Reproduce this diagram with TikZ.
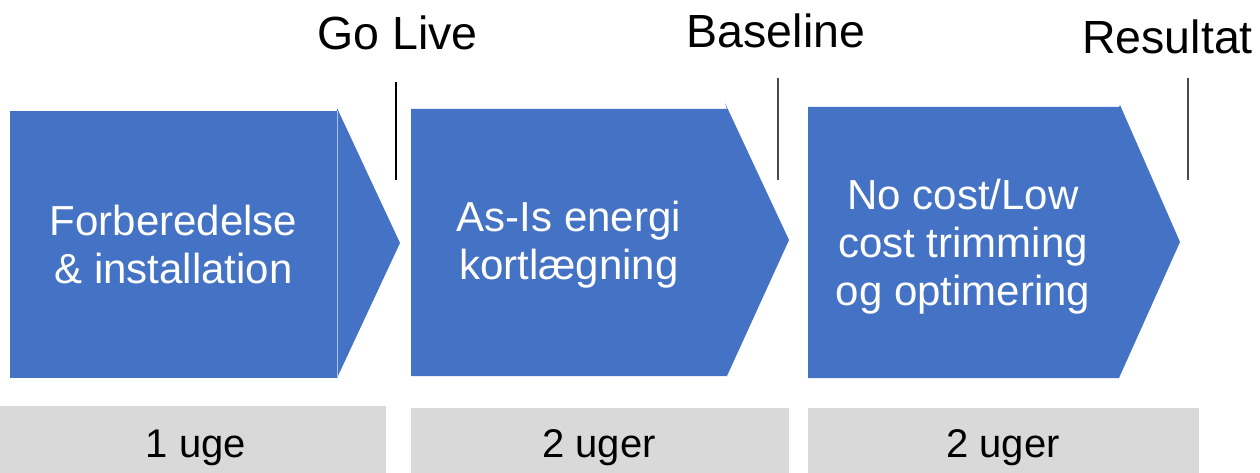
\documentclass[tikz,border=0pt]{standalone}
\usepackage{fontspec}
\setmainfont{Liberation Sans}
\definecolor{stageblue}{HTML}{4472C4}
\definecolor{durgray}{HTML}{D9D9D9}
\definecolor{markgray}{HTML}{4A4A4A}
\begin{document}
\begin{tikzpicture}[x=1pt,y=-1pt,
  stage/.style={fill=stageblue},
  durbox/.style={fill=durgray},
  stagetext/.style={text=white,align=center,inner sep=0pt,
    font=\fontsize{42}{48}\selectfont},
  durtext/.style={text=black,anchor=base,inner sep=0pt,
    font=\fontsize{40}{48}\selectfont},
  milestone/.style={text=black,anchor=base,inner sep=0pt,
    font=\fontsize{46.5}{56}\selectfont},
  tick/.style={line width=1.4pt}]
\useasboundingbox (0,0) rectangle (1260,473);

% process stages
\fill[stage] (10,111) rectangle (337,378);
\fill[stage] (337,108) -- (400,243) -- (337,378) -- cycle;
\draw[stageblue!45!white,line width=0.8pt] (337,111) -- (337,378);
\fill[stage] (411,109) -- (727,109) -- (725,103) -- (789,240) -- (727,376) -- (411,376) -- cycle;
\fill[stage] (808,107) -- (1119,107) -- (1120,105) -- (1180,242) -- (1119,378) -- (808,378) -- cycle;

\node[stagetext] (s1) at (173.5,244) {Forberedelse\\\& installation};
\node[stagetext] (s2) at (569,244.5) {As-Is energi\\kortlægning};
\node[stagetext] (s3) at (963,247) {No cost/Low\\cost trimming\\og optimering};

% durations
\fill[durbox] (0,406) rectangle (386,473);
\fill[durbox] (411,408) rectangle (789,473);
\fill[durbox] (808,408) rectangle (1199,473);
\node[durtext] (d1) at (196,457) {1 uge};
\node[durtext] (d2) at (599,457) {2 uger};
\node[durtext] (d3) at (1003,457) {2 uger};

% milestones
\node[milestone] (m1) at (397.5,50) {Go Live};
\node[milestone] (m2) at (776,48) {Baseline};
\node[milestone] (m3) at (1167.5,54) {Resultat};
\coordinate (t1a) at (396,82);  \coordinate (t1b) at (396,180);
\coordinate (t2a) at (778,78);  \coordinate (t2b) at (778,180);
\coordinate (t3a) at (1188,78); \coordinate (t3b) at (1188,180);
\draw[tick,black] (t1a) -- (t1b);
\draw[tick,markgray] (t2a) -- (t2b);
\draw[tick,markgray] (t3a) -- (t3b);
\end{tikzpicture}
\end{document}
